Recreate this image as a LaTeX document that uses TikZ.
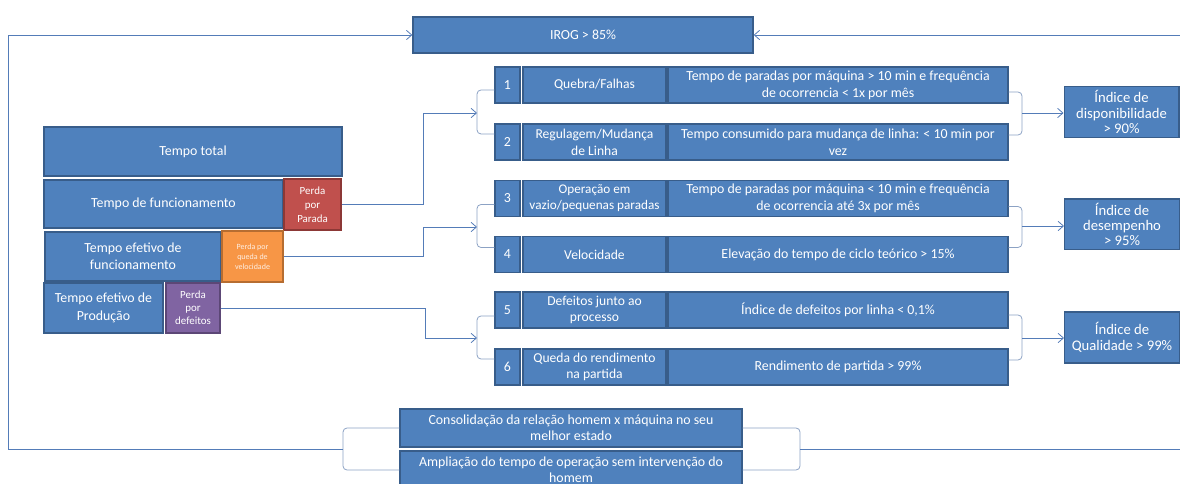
\documentclass[tikz,border=0pt]{standalone}
\usepackage{fontspec}
\setmainfont{Carlito}
\usepackage{tikz}
\usetikzlibrary{arrows.meta,calc}

\definecolor{boxblue}{RGB}{79,129,189}
\definecolor{boxline}{RGB}{56,93,138}
\definecolor{lossred}{RGB}{192,80,77}
\definecolor{lossredline}{RGB}{140,56,54}
\definecolor{lossorange}{RGB}{247,150,70}
\definecolor{lossorangeline}{RGB}{182,109,49}
\definecolor{losspurple}{RGB}{128,100,162}
\definecolor{losspurpleline}{RGB}{92,71,118}
\definecolor{conline}{RGB}{84,124,184}
\definecolor{brkline}{RGB}{140,162,196}

\begin{document}
\begin{tikzpicture}[x=0.75pt,y=0.75pt,yscale=-1,xscale=1,
  >={Straight Barb[length=4pt,width=7pt]},
  blk/.style={draw=boxline,fill=boxblue,line width=1pt,text=white,align=center,inner sep=1pt,font=\fontsize{10.4}{12.5}\selectfont},
  timebox/.style={blk,font=\fontsize{10.4}{13}\selectfont},
  numcell/.style={blk,minimum width=18.75pt,minimum height=27pt},
  causecell/.style={blk,minimum width=107.25pt,minimum height=27pt,font=\fontsize{10.2}{12.5}\selectfont},
  desccell/.style={blk,minimum width=255pt,minimum height=27pt},
  idxbox/.style={blk,minimum width=86pt,minimum height=38pt,font=\fontsize{11}{11.5}\selectfont},
  botbox/.style={blk,minimum width=256.5pt,minimum height=28.5pt,font=\fontsize{10.4}{12}\selectfont},
  conn/.style={draw=conline,line width=0.6pt},
  brk/.style={draw=brkline,line width=0.6pt,rounded corners=3pt}]
\useasboundingbox (0,0) rectangle (1180,484);

%Shape: IROG
\node[blk,minimum width=255pt,minimum height=27pt] (irog) at (583,35) {IROG > 85\%};

%Shape: time stack
\node[timebox,minimum width=223.5pt,minimum height=36.75pt] (ttotal) at (193,151.5) {Tempo total};
\node[timebox,minimum width=179.25pt,minimum height=36pt] (tfunc) at (163.5,204) {Tempo de funcionamento};
\node[blk,draw=lossredline,fill=lossred,minimum width=42.75pt,minimum height=38.25pt,font=\fontsize{8.2}{10.5}\selectfont] (pparada) at (312.5,204.5) {Perda\\por\\Parada};
\node[timebox,minimum width=132pt,minimum height=36.75pt] (tefunc) at (133,256.5) {Tempo efetivo de\\funcionamento};
\node[blk,draw=lossorangeline,fill=lossorange,minimum width=45.75pt,minimum height=38.25pt,text=white!85!lossorange,font=\fontsize{6}{7.5}\selectfont] (pveloc) at (252.5,256.5) {Perda por\\queda de\\velocidade};
\node[timebox,minimum width=89.25pt,minimum height=37.5pt] (tprod) at (103.5,308) {Tempo efetivo de\\Produção};
\node[blk,draw=losspurpleline,fill=losspurple,minimum width=40.5pt,minimum height=37.5pt,font=\fontsize{8.2}{9.75}\selectfont] (pdefeito) at (193,308) {Perda\\por\\defeitos};

%Shape: rows 1-6
\node[numcell] (n1) at (507.5,85) {1};
\node[causecell] (c1) at (594.5,85) {Quebra/Falhas};
\node[desccell] (d1) at (838,85) {Tempo de paradas por máquina > 10 min e frequência\\de ocorrencia < 1x por mês};
\node[numcell] (n2) at (507.5,142) {2};
\node[causecell] (c2) at (594.5,142) {Regulagem/Mudança\\de Linha};
\node[desccell] (d2) at (838,142) {Tempo consumido para mudança de linha: < 10 min por\\vez};
\node[numcell] (n3) at (507.5,198.5) {3};
\node[causecell,font=\fontsize{9.9}{12}\selectfont] (c3) at (594.5,198.5) {Operação em\\vazio/pequenas paradas};
\node[desccell] (d3) at (838,198.5) {Tempo de paradas por máquina < 10 min e frequência\\de ocorrencia até 3x por mês};
\node[numcell] (n4) at (507.5,254.5) {4};
\node[causecell] (c4) at (594.5,254.5) {Velocidade};
\node[desccell] (d4) at (838,254.5) {Elevação do tempo de ciclo teórico > 15\%};
\node[numcell] (n5) at (507.5,310) {5};
\node[causecell] (c5) at (594.5,310) {Defeitos junto ao\\processo};
\node[desccell] (d5) at (838,310) {Índice de defeitos por linha < 0,1\%};
\node[numcell] (n6) at (507.5,367) {6};
\node[causecell] (c6) at (594.5,367) {Queda do rendimento\\na partida};
\node[desccell] (d6) at (838,367) {Rendimento de partida > 99\%};

%Shape: indices
\node[idxbox] (disp) at (1121.5,112) {Índice de\\disponibilidade\\> 90\%};
\node[idxbox] (desemp) at (1122,224.5) {Índice de\\desempenho\\> 95\%};
\node[idxbox] (qual) at (1122,337.5) {Índice de\\Qualidade > 99\%};

%Shape: bottom boxes
\node[botbox] (consol) at (571,428) {Consolidação da relação homem x máquina no seu\\melhor estado};
\node[botbox] (amplia) at (571,470) {Ampliação do tempo de operação sem intervenção do\\homem};

%Connectors: losses to the rows
\coordinate (b12) at (477,113);
\coordinate (b34) at (477,227);
\coordinate (b56) at (477,338);
\coordinate (j1) at (423,113);
\coordinate (j2) at (423,227);
\coordinate (j3) at (425,338);
\draw[brk] ($(n1.west)+(0,5)$) -| (b12) |- ($(n2.west)+(0,-8)$);
\draw[brk] ($(n3.west)+(0,6)$) -| (b34) |- ($(n4.west)+(0,-7)$);
\draw[brk] ($(n5.west)+(0,6)$) -| (b56) |- ($(n6.west)+(0,-8)$);
\draw[conn,->] (pparada.east) -| (j1) -- (b12);
\draw[conn,->] (pveloc.east) -| (j2) -- (b34);
\draw[conn,->] (pdefeito.east) -| (j3) -- (b56);

%Connectors: rows to the indices
\coordinate (r12) at (1022,113);
\coordinate (r34) at (1022,226);
\coordinate (r56) at (1022,338);
\draw[brk] ($(d1.east)+(0,7)$) -| (r12) |- ($(d2.east)+(0,-7)$);
\draw[brk] ($(d3.east)+(0,8)$) -| (r34) |- ($(d4.east)+(0,-7)$);
\draw[brk] ($(d5.east)+(0,5)$) -| (r56) |- ($(d6.east)+(0,-7)$);
\draw[conn,->] (r12) -- (disp.west |- r12);
\draw[conn,->] (r34) -- (desemp.west |- r34);
\draw[conn,->] (r56) -- (qual.west |- r56);

%Connectors: loop back to IROG
\coordinate (lb) at (343,449);
\coordinate (lt) at (8,35);
\coordinate (rb) at (800,449);
\coordinate (rt) at (1182,35);
\draw[brk] (consol.west) -| (lb) |- (amplia.west);
\draw[brk] (consol.east) -| (rb) |- (amplia.east);
\draw[conn,->] (lb) -| (lt) -- (irog.west);
\draw[conn,->] (rb) -| (rt) -- (irog.east);

\end{tikzpicture}
\end{document}
